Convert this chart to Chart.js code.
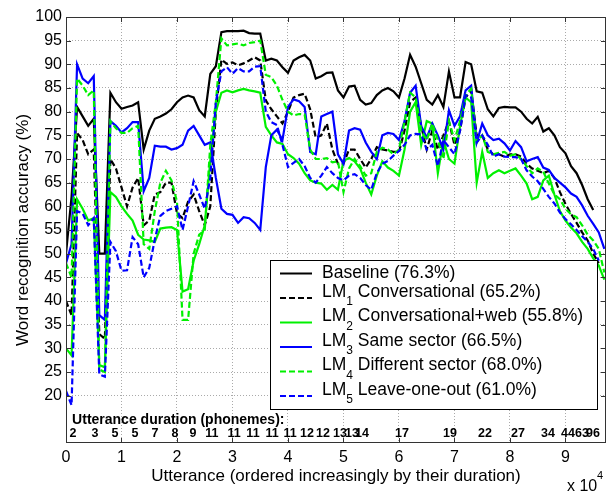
<!DOCTYPE html>
<html>
<head>
<meta charset="utf-8">
<script src="https://cdn.jsdelivr.net/npm/chart.js@4.4.1/dist/chart.umd.min.js"></script>
<style>
html, body { margin: 0; padding: 0; background: #fff; }
#wrap { width: 614px; height: 493px; }
</style>
</head>
<body>
<div id="wrap"><canvas id="chart"></canvas></div>
<script>
// utterance index (x), one reading every 1000 utterances
const utterance = [0,1000,2000,3000,4000,5000,6000,7000,8000,9000,
	10000,11000,12000,13000,14000,15000,16000,17000,18000,19000,
	20000,21000,22000,23000,24000,25000,26000,27000,28000,29000,
	30000,31000,32000,33000,34000,35000,36000,37000,38000,39000,
	40000,41000,42000,43000,44000,45000,46000,47000,48000,49000,
	50000,51000,52000,53000,54000,55000,56000,57000,58000,59000,
	60000,61000,62000,63000,64000,65000,66000,67000,68000,69000,
	70000,71000,72000,73000,74000,75000,76000,77000,78000,79000,
	80000,81000,82000,83000,84000,85000,86000,87000,88000,89000,
	90000,91000,92000,93000,94000,95000,96000,97000];

const baseline = [50,62,81,79,77,78.5,50,50,84,82,
	80.6,81,81.3,82,72,76,78.5,79,79.6,80.5,
	82,83,83.4,83,80.3,79,88,89.6,96.8,97,
	97,97,97.1,96.6,96.5,96.5,90.8,91.2,90.8,89.4,
	88.2,90.8,91.5,92,90.8,87,87.5,88.2,88.3,84.5,
	83,85.3,85.5,82.5,81.5,81.8,83.5,84.5,85,84.3,
	83,87,92,89.5,86,82.5,81.5,83.5,81,88.5,
	83,83,90.5,90,84.3,84,80.5,79,80.8,81,
	80.9,80.9,80,78.5,77.5,78.9,75.8,76.5,75,72.5,
	71.2,68.5,67,64.5,61.5,59.2,null,null];

const lm1 = [40,37,75.5,74,71,72,33,32,70,68,
	64,60,64,66,56,57,62.5,63,65,65,
	58.5,57.5,61,62.5,59,56,60,80,91,90.1,
	90.4,89.8,90.2,90.8,91.5,90.8,82.4,80.5,79,77.5,
	80,83,83.5,83.8,80.5,74.5,75,77.5,72,69,
	69,72,72,70,68.2,70,72.5,72,71.8,71.5,
	71.5,76,82,83,77,72,76,72,75,78,
	73,76,83,84.5,75,75,72,71,71,70.5,
	71,71,70.5,69,68,67.5,67,67.5,66,63,
	60.5,58.4,56.5,54.5,52.8,50,48,null];

const lm2 = [30,28.5,61.5,59.5,57,57.5,26.5,26,63,62,
	60,58.4,57,54,53,52.8,52.5,55.3,55.5,55.6,
	55,42,42.5,48.5,52,56,69.7,80,84,84.5,
	84.1,84.5,84.8,84.5,84.3,84,76.8,75,73.5,73.2,
	71,70.2,69,67,65.5,65,64.8,63.5,64.5,63.5,
	69.6,70.2,69.5,68,65,62.5,66.5,69.5,68.2,67.5,
	66.5,72,80,82,73,78,77.5,67,74,70,
	69,77,83,82,65,71.5,66,67,67.6,67,
	67.5,68,66.5,64.8,61.5,62,65.5,66.5,62.5,59,
	57,55.5,54.3,52.5,51,49,47.5,44.5];

const lm3 = [48,52,90,87,86,87.5,37,36,78,77,
	75.6,76.5,77.8,77.8,63.2,66,72.8,72.6,72.6,72,
	72.3,73,76,77,75,73,73.5,66,59.5,58.4,
	58.2,56.5,57.7,57.5,56.5,55,68.3,75,76.2,74,
	81,82.6,82.2,81,71.5,71,79,79.5,80,71,
	69,76,76.5,76.2,73.5,71.5,70,75,75.5,75.3,
	74,78,84,85.5,77,74.5,77.5,75,72,80.3,
	77,79,84.5,85.5,73.5,77.5,75,74,74.3,73.3,
	71.8,73.8,72.5,69.5,70,70.4,68.2,67.7,66,65,
	64,62.7,62,60.2,58,56.3,54.5,51];

const lm4 = [48,45,87,85.5,83.5,84.5,25.5,25,78,76.5,
	75.5,75.5,76.5,77,52,51,59,65,67.5,65.5,
	61,36,36,50,54,55,73,82,95.5,94,
	94.2,94.4,94,94.5,94.7,95,87.8,87.3,85.5,82.5,
	80,79.2,79.5,79.4,72,70,70,70.2,69.3,69.5,
	63,68,70,68.5,66.5,67,71.5,72.4,72,71,
	72,78,84,83,76,74,77.5,74,70,78,
	74,78,83.5,84.8,73.5,75,71.5,71,71.3,71.5,
	70.7,71,70,68.5,67,68,67.3,64.8,62.5,61.5,
	59.5,58.3,57.7,56,54,52.8,51,46];

const lm5 = [21,18,59,58.5,56,57.5,24.5,24,52.5,50.5,
	46.4,46.5,53.5,52,45,47,53,58,59,59.5,
	60,55,60,65.3,62.5,59.5,66,82,88.5,89.4,
	88,89.2,88.5,88.5,89.5,89.6,80,77.8,77.2,73,
	68.3,69.2,70,68.5,66,65,66.5,68.3,67,66,
	65.5,66.5,66.8,66,64.5,63.5,67,69,69.6,70.7,
	71.7,73,75,75.3,75.2,72,73,68.5,74,72.5,
	71,76,83.5,83,73.5,75,73,70.5,71,70.5,
	70.4,70.4,70,67.6,66.3,65.3,63.7,62,60.6,58.7,
	57.3,56.2,55,53.7,52.5,51,48.5,null];

const seriesNames = ["Baseline (76.3%)", " Conversational (65.2%)", " Conversational+web (55.8%)",
	" Same sector (66.5%)", " Different sector (68.0%)", " Leave-one-out (61.0%)"];
const seriesSubs = ["", "1", "2", "3", "4", "5"];

const xTickValues = [0,10000,20000,30000,40000,50000,60000,70000,80000,90000];
const yTickValues = [20,25,30,35,40,45,50,55,60,65,70,75,80,85,90,95,100];

// phoneme-count labels written along the bottom of the plot
const durationLabels = ["2","3","5","5","7","8","9","11","11","11","11","11","12","12","13","13","14","17","19","22","27","34","44","63","96"];
const durationPos = [1260,5230,8830,12430,16040,19640,22880,26300,30270,33690,37120,40360,43420,46310,49370,51530,53330,60540,69190,75500,81440,86850,90450,92970,94950];

const FONT = "'Liberation Sans', Arial, Helvetica, sans-serif";
Chart.defaults.font.family = FONT;
Chart.defaults.color = '#000';

function pts(vals) {
	return utterance.map((x, i) => ({x: x, y: vals[i]}));
}

const styles = [
	{values: baseline, color: '#000000', dash: []},
	{values: lm1, color: '#000000', dash: [6, 3]},
	{values: lm2, color: '#00f000', dash: []},
	{values: lm3, color: '#0000ff', dash: []},
	{values: lm4, color: '#00f000', dash: [6, 3]},
	{values: lm5, color: '#0000ff', dash: [6, 3]},
];

let datasets = [];
styles.forEach((s, i) => {
	datasets.push({
		label: (seriesSubs[i] ? 'LM' + seriesSubs[i] : '') + seriesNames[i],
		data: pts(s.values),
		borderColor: s.color,
		borderDash: s.dash,
		borderWidth: 2.2,
		pointRadius: 0,
		tension: 0,
		spanGaps: false,
		order: styles.length - i,
	});
});

// box, inward ticks, phoneme labels, legend, x10^4
const decorations = {
	id: 'decorations',
	afterDatasetsDraw(chart) {
		const {ctx, chartArea: a, scales: {x, y}} = chart;
		ctx.save();

		ctx.strokeStyle = '#333';
		ctx.lineWidth = 1;
		ctx.setLineDash([]);
		ctx.strokeRect(a.left + 0.5, a.top + 0.5, a.right - a.left - 1, a.bottom - a.top - 1);
		ctx.beginPath();
		x.ticks.forEach(t => {
			const px = Math.round(x.getPixelForValue(t.value)) + 0.5;
			ctx.moveTo(px, a.bottom); ctx.lineTo(px, a.bottom - 5);
			ctx.moveTo(px, a.top); ctx.lineTo(px, a.top + 5);
		});
		y.ticks.forEach(t => {
			const py = Math.round(y.getPixelForValue(t.value)) + 0.5;
			ctx.moveTo(a.left, py); ctx.lineTo(a.left + 5, py);
			ctx.moveTo(a.right, py); ctx.lineTo(a.right - 5, py);
		});
		ctx.stroke();

		// phoneme annotation
		ctx.fillStyle = '#000';
		ctx.textBaseline = 'middle';
		ctx.textAlign = 'left';
		ctx.font = 'bold 14px ' + FONT;
		ctx.fillText('Utterance duration (phonemes):', x.getPixelForValue(1100), y.getPixelForValue(14.9));
		ctx.textAlign = 'center';
		ctx.font = 'bold 12.5px ' + FONT;
		durationLabels.forEach((lab, i) => {
			ctx.fillText(lab, x.getPixelForValue(durationPos[i]), y.getPixelForValue(11.9));
		});

		// legend
		const bw = 327, bh = 149;
		const bx = a.right - 9 - bw, by = a.bottom - 34 - bh;
		ctx.fillStyle = '#fff';
		ctx.fillRect(bx, by, bw, bh);
		ctx.strokeStyle = '#000';
		ctx.strokeRect(bx + 0.5, by + 0.5, bw, bh);
		chart.data.datasets.forEach((ds, i) => {
			const ly = by + 13.5 + i * 24.5;
			ctx.strokeStyle = ds.borderColor;
			ctx.lineWidth = 2;
			ctx.setLineDash(ds.borderDash);
			ctx.beginPath();
			ctx.moveTo(bx + 10, ly);
			ctx.lineTo(bx + 42, ly);
			ctx.stroke();
			ctx.setLineDash([]);
			ctx.fillStyle = '#000';
			ctx.textAlign = 'left';
			let tx = bx + 52;
			if (seriesSubs[i]) {
				ctx.font = '17.5px ' + FONT;
				ctx.fillText('LM', tx, ly - 6);
				tx += ctx.measureText('LM').width;
				ctx.font = '12px ' + FONT;
				ctx.fillText(seriesSubs[i], tx, ly + 4);
				tx += ctx.measureText(seriesSubs[i]).width;
				ctx.font = '17.5px ' + FONT;
				ctx.fillText(seriesNames[i], tx, ly - 6);
			} else {
				ctx.font = '17.5px ' + FONT;
				ctx.fillText(seriesNames[i], tx, ly);
			}
		});

		// x 10^4 multiplier
		ctx.fillStyle = '#000';
		ctx.textAlign = 'left';
		ctx.font = '16px ' + FONT;
		ctx.fillText('x 10', a.right - 39, a.bottom + 44);
		ctx.font = '11px ' + FONT;
		ctx.fillText('4', a.right - 9, a.bottom + 33);
		ctx.restore();
	}
};

new Chart(document.getElementById('chart'), {
	type: 'line',
	data: {datasets: datasets},
	options: {
		responsive: true,
		maintainAspectRatio: false,
		animation: false,
		devicePixelRatio: 1,
		layout: {padding: {top: 17, right: 8, left: 0, bottom: 0}},
		plugins: {legend: {display: false}, tooltip: {enabled: false}},
		scales: {
			x: {
				type: 'linear',
				min: 0,
				max: 97300,
				afterBuildTicks: s => { s.ticks = xTickValues.map(v => ({value: v})); },
				afterFit: s => { s.height = 50; },
				ticks: {
					callback: v => String(v / 10000),
					font: {size: 16},
					padding: 5,
					maxRotation: 0,
					autoSkip: false,
				},
				grid: {color: '#aaaaaa', drawTicks: false},
				border: {display: false, dash: [1, 2]},
				title: {
					display: true,
					text: 'Utterance (ordered increasingly by their duration)',
					font: {size: 17},
					padding: {top: 0, bottom: 6},
				},
			},
			y: {
				min: 10,
				max: 100,
				afterBuildTicks: s => { s.ticks = yTickValues.map(v => ({value: v})); },
				afterFit: s => { s.width = 66; },
				ticks: {font: {size: 16}, padding: 4},
				grid: {color: '#aaaaaa', drawTicks: false},
				border: {display: false, dash: [1, 2]},
				title: {
					display: true,
					text: 'Word recognition accuracy (%)',
					font: {size: 17},
					padding: {top: 13, bottom: 0},
				},
			},
		},
	},
	plugins: [decorations],
});
</script>
</body>
</html>
